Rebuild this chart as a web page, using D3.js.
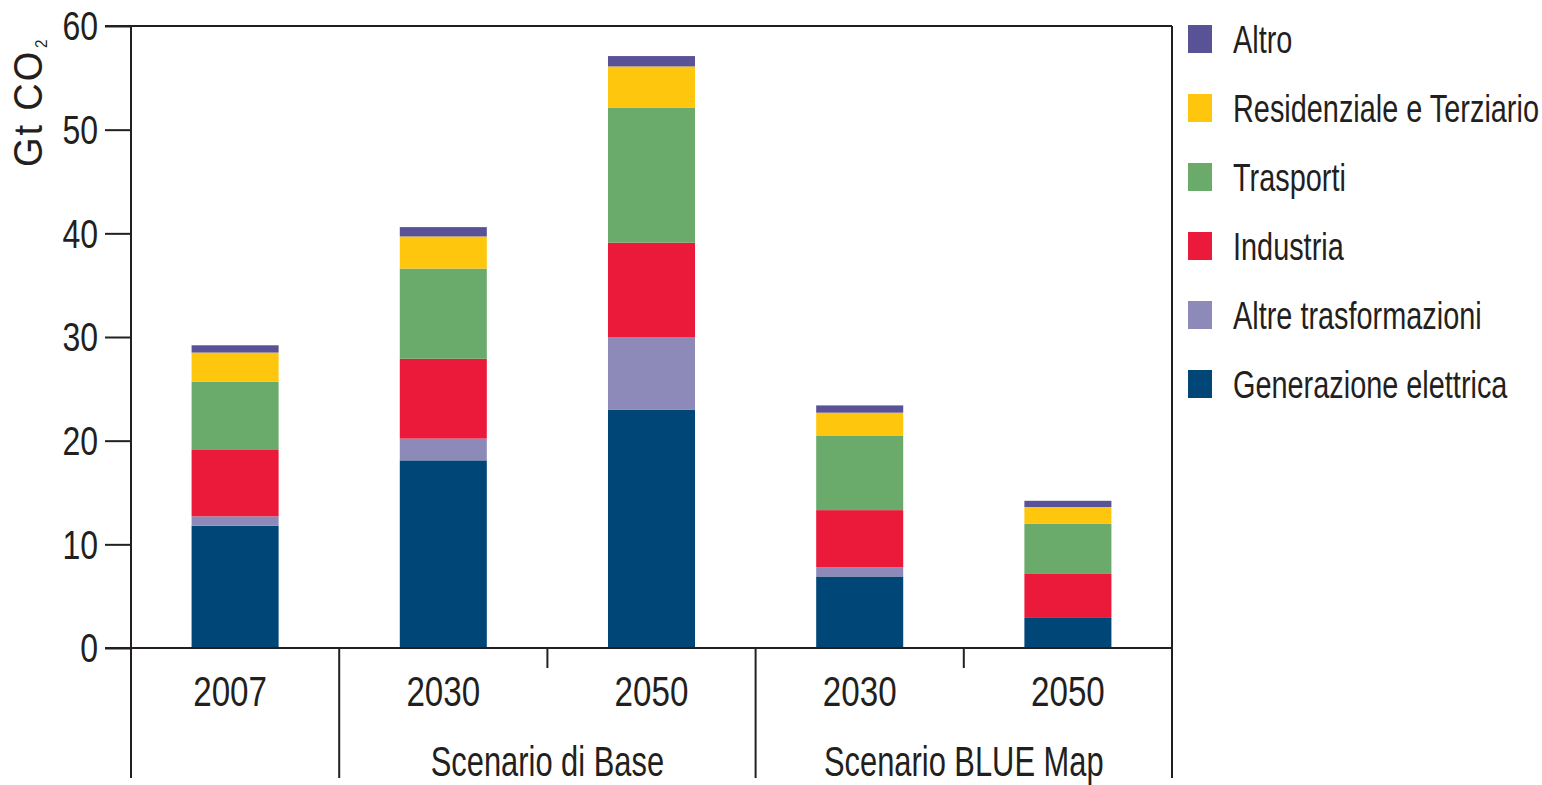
<!DOCTYPE html>
<html>
<head>
<meta charset="utf-8">
<script src="https://cdn.jsdelivr.net/npm/d3@7"></script>
<style>
  body { margin: 0; background: #fff; }
  svg text { font-family: "Liberation Sans", Arial, sans-serif; fill: #231f20; }
</style>
</head>
<body>
<div id="chart"></div>
<script>
// categorie e scenari
const categories = ["2007", "2030", "2050", "2030", "2050"];
const scenarios = ["", "Scenario di Base", "Scenario di Base", "Scenario BLUE Map", "Scenario BLUE Map"];
const seriesNames = ["Generazione elettrica", "Altre trasformazioni", "Industria", "Trasporti", "Residenziale e Terziario", "Altro"];
const seriesColors = ["#004677", "#8d89b8", "#ec1a3a", "#6aaa6a", "#fec60d", "#5a5296"];

// Gt CO2 per settore
const generazione = [11.8, 18.1, 23.0, 6.9, 2.9];
const altreTrasf = [0.9, 2.1, 7.0, 0.9, 0];
const industria = [6.4, 7.7, 9.1, 5.5, 4.3];
const trasporti = [6.6, 8.7, 13.0, 7.2, 4.8];
const residenziale = [2.8, 3.1, 4.0, 2.2, 1.6];
const altro = [0.7, 0.9, 1.0, 0.7, 0.6];

const yTicks = [0, 10, 20, 30, 40, 50, 60];

function drawChart() {
    var width = 1542, height = 785;
    var left = 131, right = 1172, top = 26, bottom = 648, axisBottom = 778;

    var rows = categories.map((c, i) => ({
        id: i,
        "Generazione elettrica": generazione[i],
        "Altre trasformazioni": altreTrasf[i],
        "Industria": industria[i],
        "Trasporti": trasporti[i],
        "Residenziale e Terziario": residenziale[i],
        "Altro": altro[i]
    }));
    var stacked = d3.stack().keys(seriesNames)(rows);

    var x = d3.scaleBand()
        .domain(categories.map((c, i) => i))
        .range([left, right])
        .paddingInner(0.582)
        .paddingOuter(0.291);
    var y = d3.scaleLinear().domain([0, 60]).range([bottom, top]);
    var color = d3.scaleOrdinal().domain(seriesNames).range(seriesColors);

    const svg = d3.select("#chart").append("svg")
        .attr("width", width)
        .attr("height", height);

    // barre
    svg.append("g").selectAll("g")
        .data(stacked)
        .enter().append("g")
        .attr("fill", d => color(d.key))
        .selectAll("rect")
        .data(d => d)
        .enter().append("rect")
        .attr("x", d => x(d.data.id))
        .attr("width", x.bandwidth())
        .attr("y", d => y(d[1]))
        .attr("height", d => y(d[0]) - y(d[1]));

    // asse y
    var yAxis = svg.append("g")
        .attr("transform", `translate(${left},0)`)
        .call(d3.axisLeft(y).tickValues(yTicks).tickSize(26).tickPadding(0).tickFormat(d3.format("d")));
    yAxis.select(".domain").remove();
    yAxis.selectAll(".tick line").attr("stroke", "#231f20").attr("stroke-width", 2);
    yAxis.selectAll(".tick text")
        .attr("x", null).attr("dy", null)
        .attr("text-anchor", "end")
        .attr("dominant-baseline", "central")
        .attr("transform", "translate(-33,0) scale(0.8,1)")
        .style("font-size", "40px");

    var frame = svg.append("g").attr("stroke", "#231f20").attr("stroke-width", 2);
    frame.append("line").attr("x1", left).attr("x2", left).attr("y1", top).attr("y2", axisBottom);
    frame.append("line").attr("x1", right).attr("x2", right).attr("y1", top).attr("y2", axisBottom);
    frame.append("line").attr("x1", left - 26).attr("x2", right).attr("y1", top).attr("y2", top);
    frame.append("line").attr("x1", left - 26).attr("x2", right).attr("y1", bottom).attr("y2", bottom);

    // separatori tra gruppi e tacche corte
    var step = x.step();
    categories.forEach((c, i) => {
        if (i == 0) return;
        var xs = left + step * i;
        var sep = scenarios[i] != scenarios[i - 1];
        frame.append("line")
            .attr("x1", xs).attr("x2", xs)
            .attr("y1", bottom).attr("y2", sep ? axisBottom : bottom + 20);
    });

    // etichette anni
    svg.append("g").selectAll("text")
        .data(categories)
        .enter().append("text")
        .attr("transform", (d, i) => `translate(${x(i) + x.bandwidth() / 2 - (i == 0 ? 5 : 0)},706) scale(0.79,1)`)
        .attr("text-anchor", "middle")
        .style("font-size", "42px")
        .text(d => d);

    // etichette scenari
    var groups = d3.groups(categories.map((c, i) => ({ s: scenarios[i], i: i })).filter(d => d.s != ""), d => d.s);
    svg.append("g").selectAll("text")
        .data(groups)
        .enter().append("text")
        .attr("transform", d => {
            var first = d[1][0].i, last = d[1][d[1].length - 1].i;
            var cx = (left + step * first + left + step * (last + 1)) / 2;
            return `translate(${cx},776) scale(0.735,1)`;
        })
        .attr("text-anchor", "middle")
        .style("font-size", "42px")
        .text(d => d[0]);

    // titolo asse y
    var yl = svg.append("text")
        .attr("transform", "translate(42,167) rotate(-90) scale(0.95,1)")
        .style("font-size", "40px")
        .attr("letter-spacing", "2px");
    yl.append("tspan").text("Gt CO");
    yl.append("tspan").attr("dy", 5).attr("dx", 2).style("font-size", "16px").text("2");

    // legenda
    var legendItems = seriesNames.slice().reverse();
    var legend = svg.append("g").attr("transform", "translate(1188,0)");
    legend.selectAll("rect")
        .data(legendItems)
        .enter().append("rect")
        .attr("x", 0)
        .attr("y", (d, i) => 25 + i * 69)
        .attr("width", 24)
        .attr("height", 28)
        .attr("fill", d => color(d));
    legend.selectAll("text")
        .data(legendItems)
        .enter().append("text")
        .attr("transform", (d, i) => `translate(45,${53 + i * 69}) scale(0.76,1)`)
        .style("font-size", "38px")
        .text(d => d);
}

drawChart()
</script>
</body>
</html>
